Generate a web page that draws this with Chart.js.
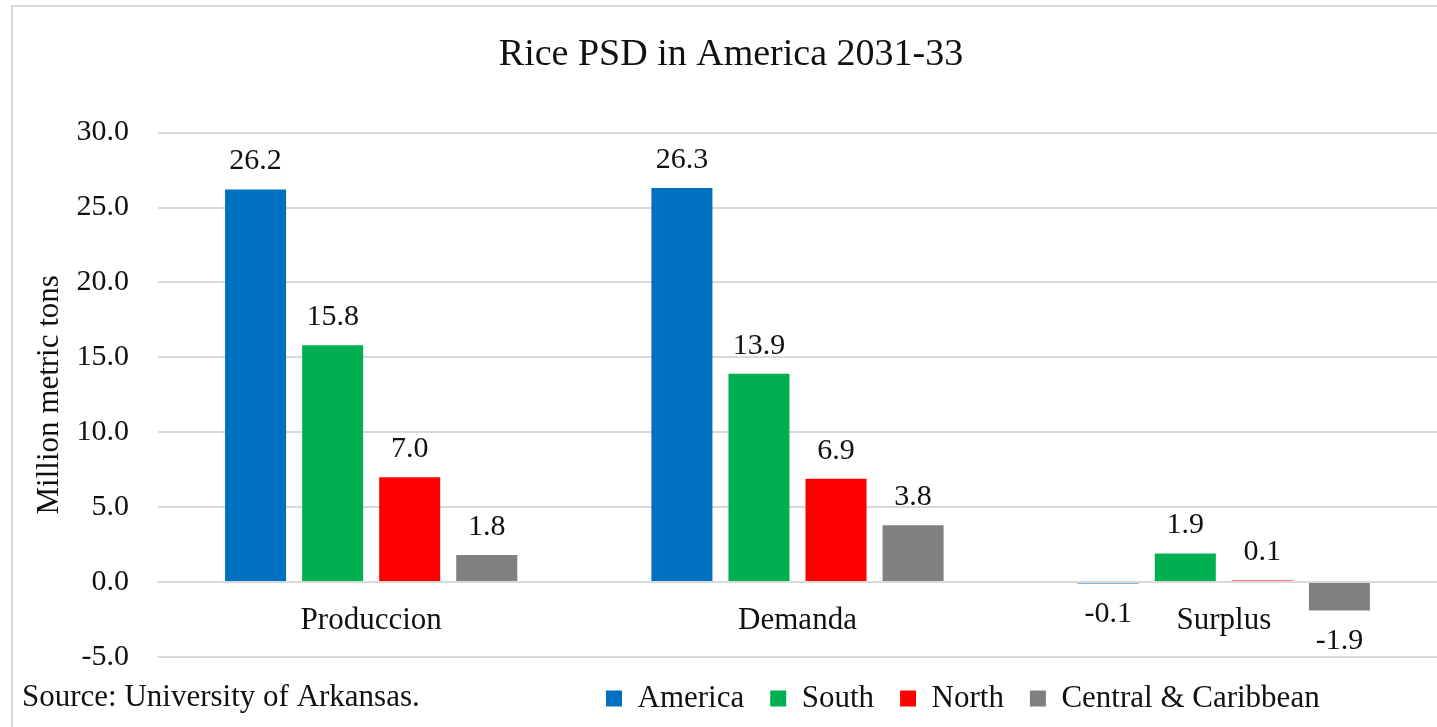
<!doctype html>
<html lang="en">
<head>
    <meta charset="UTF-8">
    <title>Rice PSD in America 2031-33</title>
    <script src="https://cdn.jsdelivr.net/npm/chart.js"></script>
    <style>
        body { margin: 0; background: #fff; }
        #wrap { width: 1437px; height: 727px; }
    </style>
</head>
<body>
    <div id="wrap"><canvas id="riceChart"></canvas></div>

    <script>
        // values (million metric tons)
        const categories = ['Produccion', 'Demanda', 'Surplus'];
        const america = [26.2, 26.3, -0.1];
        const south = [15.8, 13.9, 1.9];
        const north = [7.0, 6.9, 0.1];
        const central = [1.8, 3.8, -1.9];
        const yTicks = [-5, 0, 5, 10, 15, 20, 25, 30];

        const serif = "'Liberation Serif', 'Times New Roman', serif";
        const textColor = '#111';
        const gridColor = '#d9d9d9';

        // white background + the light frame of the original chart
        const frame = {
            id: 'frame',
            beforeDraw(chart) {
                const ctx = chart.ctx;
                ctx.save();
                ctx.fillStyle = '#fff';
                ctx.fillRect(0, 0, chart.width, chart.height);
                ctx.strokeStyle = gridColor;
                ctx.lineWidth = 2;
                ctx.strokeRect(12, 6, chart.width + 20, chart.height + 20);
                ctx.restore();
            }
        };

        // value labels above / below each bar
        const valueLabels = {
            id: 'valueLabels',
            afterDatasetsDraw(chart) {
                const ctx = chart.ctx;
                ctx.save();
                ctx.font = '30px ' + serif;
                ctx.fillStyle = textColor;
                ctx.textAlign = 'center';
                ctx.textBaseline = 'middle';
                chart.data.datasets.forEach((ds, i) => {
                    chart.getDatasetMeta(i).data.forEach((bar, j) => {
                        const v = ds.data[j];
                        const y = v < 0 ? bar.y + 31 : bar.y - 28;
                        ctx.fillText(v.toFixed(1), bar.x, y);
                    });
                });
                ctx.restore();
            }
        };

        // source note, left of the legend
        const sourceNote = {
            id: 'sourceNote',
            afterDraw(chart) {
                const ctx = chart.ctx;
                ctx.save();
                ctx.font = '31px ' + serif;
                ctx.fillStyle = textColor;
                ctx.textAlign = 'left';
                ctx.textBaseline = 'middle';
                ctx.fillText('Source: University of Arkansas.', 22, 698);
                ctx.restore();
            }
        };

        // legend sits right of the source note, not centred
        const legendShift = {
            id: 'legendShift',
            afterLayout(chart) {
                chart.legend.left = 580;
            }
        };

        new Chart(document.getElementById('riceChart'), {
            type: 'bar',
            data: {
                labels: categories,
                datasets: [
                    { label: 'America', data: america, backgroundColor: '#0070C0' },
                    { label: 'South', data: south, backgroundColor: '#00B050' },
                    { label: 'North', data: north, backgroundColor: '#FF0000' },
                    { label: 'Central & Caribbean', data: central, backgroundColor: '#808080' }
                ]
            },
            options: {
                responsive: true,
                maintainAspectRatio: false,
                animation: false,
                datasets: {
                    bar: { categoryPercentage: 0.723, barPercentage: 0.792, borderWidth: 0 }
                },
                layout: { padding: { top: 0, left: 25, right: 0, bottom: 3 } },
                plugins: {
                    title: {
                        display: true,
                        text: 'Rice PSD in America 2031-33',
                        color: textColor,
                        font: { family: serif, size: 38, weight: 'normal', lineHeight: 1.2 },
                        padding: { top: 32, bottom: 55 }
                    },
                    legend: {
                        position: 'bottom',
                        align: 'start',
                        labels: {
                            color: textColor,
                            font: { family: serif, size: 31 },
                            boxWidth: 16,
                            boxHeight: 16,
                            padding: 26
                        }
                    },
                    tooltip: { enabled: false }
                },
                scales: {
                    x: {
                        position: { y: 0 },
                        z: 1,
                        grid: { display: false, drawTicks: false },
                        border: { display: true, color: gridColor, width: 2 },
                        ticks: {
                            color: textColor,
                            font: { family: serif, size: 31 },
                            padding: 20
                        }
                    },
                    y: {
                        min: yTicks[0],
                        max: yTicks[yTicks.length - 1],
                        afterBuildTicks(scale) {
                            scale.ticks = yTicks.map(v => ({ value: v }));
                        },
                        afterFit(scale) {
                            scale.width = 133;
                        },
                        grid: { color: gridColor, lineWidth: 2, drawTicks: false },
                        border: { display: false },
                        ticks: {
                            color: textColor,
                            font: { family: serif, size: 30 },
                            padding: 29,
                            callback: v => v.toFixed(1)
                        },
                        title: {
                            display: true,
                            text: 'Million metric tons',
                            color: textColor,
                            font: { family: serif, size: 31, lineHeight: 1.2 },
                            padding: { top: 6, bottom: 0 }
                        }
                    }
                }
            },
            plugins: [frame, valueLabels, sourceNote, legendShift]
        });
    </script>
</body>
</html>
